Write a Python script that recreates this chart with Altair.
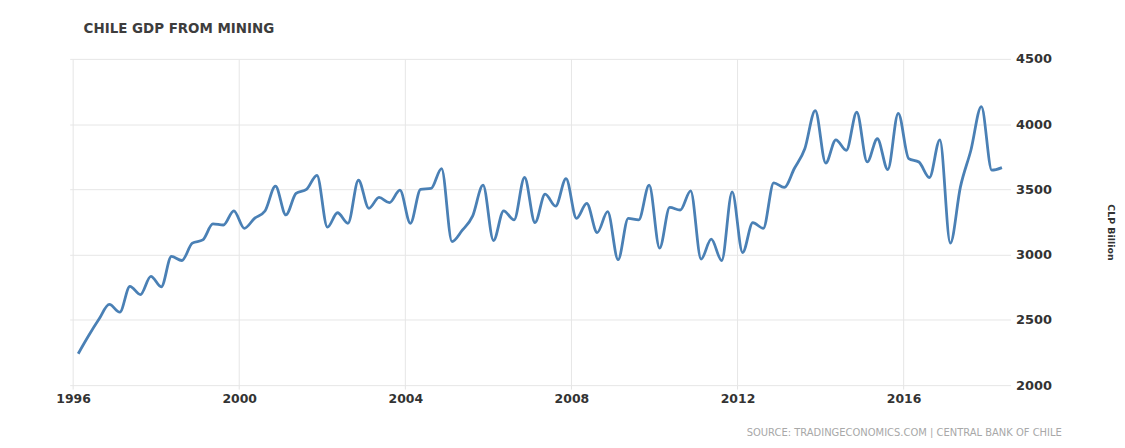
import altair as alt
import pandas as pd

# Quarterly Chile GDP from mining (CLP billion), 1996Q1 - 2018Q2
years = [y for y in range(1996, 2019) for _ in range(4)][:90]
quarters = [q for _ in range(1996, 2019) for q in (1, 2, 3, 4)][:90]
values = [
    2240, 2376, 2504, 2618,
    2559, 2757, 2694, 2834,
    2753, 2986, 2955, 3088,
    3113, 3235, 3227, 3336,
    3202, 3278, 3334, 3525,
    3304, 3469, 3500, 3608,
    3210, 3321, 3240, 3570,
    3355, 3438, 3398, 3494,
    3240, 3500, 3507, 3659,
    3100, 3185, 3295, 3532,
    3108, 3336, 3266, 3591,
    3245, 3464, 3372, 3583,
    3278, 3393, 3169, 3329,
    2961, 3278, 3266, 3532,
    3050, 3362, 3342, 3489,
    2966, 3118, 2955, 3481,
    3016, 3245, 3202, 3550,
    3515, 3660, 3812, 4104,
    3702, 3880, 3799, 4091,
    3710, 3888, 3652, 4083,
    3736, 3710, 3591, 3880,
    3088, 3519, 3800, 4134,
    3647, 3667,
]
tick_years = [1996, 2000, 2004, 2008, 2012, 2016]
y_ticks = [2000, 2500, 3000, 3500, 4000, 4500]

mid_month = {1: 2, 2: 5, 3: 8, 4: 11}
df = pd.DataFrame({
    "date": [f"{y}-{mid_month[q]:02d}-15" for y, q in zip(years, quarters)],
    "value": values,
})

FONT = "DejaVu Sans"

chart = alt.Chart(df).mark_line(
    interpolate="monotone", color="#4a80b5", strokeWidth=2.8
).encode(
    x=alt.X(
        "date:T",
        scale=alt.Scale(domain=[alt.DateTime(year=1995, month=12, date=2),
                                alt.DateTime(year=2018, month=7, date=30)]),
        axis=alt.Axis(
            values=[alt.DateTime(year=y) for y in tick_years],
            format="%Y",
            title="SOURCE: TRADINGECONOMICS.COM | CENTRAL BANK OF CHILE",
            titleFont=FONT, titleFontSize=10, titleFontWeight="normal",
            titleColor="#a8a8a8", titleAnchor="end", titleAlign="right",
            titleX=997, titleY=48, titleBaseline="middle",
            labelFont=FONT, labelFontSize=12.5, labelFontWeight="bold",
            labelColor="#333333", labelPadding=3,
            ticks=True, tickSize=4, tickColor="#e3e3e3",
            domain=False, grid=True, gridColor="#e6e6e6", gridWidth=1,
        ),
    ),
    y=alt.Y(
        "value:Q",
        scale=alt.Scale(domain=[2000, 4500], nice=False, zero=False),
        axis=alt.Axis(
            orient="right", values=y_ticks, format="d",
            title="CLP Billion", titleFont=FONT, titleFontSize=9.5,
            titleFontWeight="bold", titleColor="#333333", titleAngle=90,
            titleX=100, titleY=174, titleAlign="center", titleBaseline="middle",
            labelFont=FONT, labelFontSize=13, labelFontWeight="bold",
            labelColor="#333333", labelPadding=5, labelAlign="left",
            ticks=False, domain=False, grid=True, gridColor="#e6e6e6", gridWidth=1,
        ),
    ),
).properties(
    width=946,
    height=328,
    title=alt.TitleParams(
        text="CHILE GDP FROM MINING", anchor="start", frame="group", align="left",
        dx=14, offset=18,
        font=FONT, fontSize=13.5, fontWeight="bold", color="#3d3d3d",
    ),
    autosize=alt.AutoSizeParams(type="none"),
    padding={"left": 62, "top": 50, "right": 107, "bottom": 52},
    background="white",
).configure_view(stroke=None)

chart.save("out.html", embed_options={"renderer": "svg", "actions": False})
